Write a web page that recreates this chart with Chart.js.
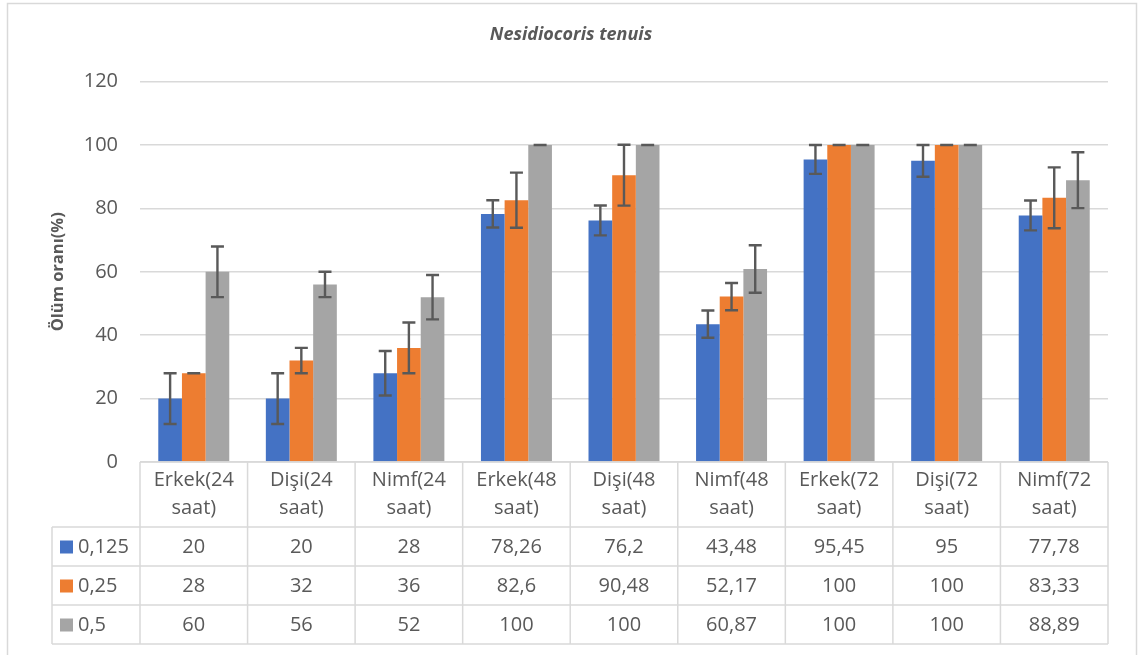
<!DOCTYPE html>
<html>
<head>
<meta charset="utf-8">
<script src="https://cdn.jsdelivr.net/npm/chart.js@4.4.0/dist/chart.umd.min.js"></script>
<style>
  html, body { margin: 0; padding: 0; background: #fff; }
  #wrap { position: relative; width: 1139px; height: 655px; }
</style>
</head>
<body>
<div id="wrap"><canvas id="chart" width="1139" height="655"></canvas></div>
<script>
// categories (two lines each, like in the data table header)
var categories = [
  ["Erkek(24", "saat)"], ["Dişi(24", "saat)"], ["Nimf(24", "saat)"],
  ["Erkek(48", "saat)"], ["Dişi(48", "saat)"], ["Nimf(48", "saat)"],
  ["Erkek(72", "saat)"], ["Dişi(72", "saat)"], ["Nimf(72", "saat)"]
];
var seriesNames = ["0,125", "0,25", "0,5"];
var dose125 = [20, 20, 28, 78.26, 76.2, 43.48, 95.45, 95, 77.78];
var dose25  = [28, 32, 36, 82.6, 90.48, 52.17, 100, 100, 83.33];
var dose5   = [60, 56, 52, 100, 100, 60.87, 100, 100, 88.89];
// error bar half-lengths
var err125 = [8, 8, 7, 4.3, 4.7, 4.3, 4.55, 5, 4.7];
var err25  = [0, 4, 8, 8.7, 9.6, 4.3, 0, 0, 9.6];
var err5   = [8, 4, 7, 0, 0, 7.5, 0, 0, 8.8];
var yTicks = [0, 20, 40, 60, 80, 100, 120];
var yTitle = "Ölüm oranı(%)";

var colors = ["#4472C4", "#ED7D31", "#A5A5A5"];
var textColor = "#595959";
var gridColor = "#D9D9D9";
var fontFam = "'Open Sans', sans-serif";

function fmt(v) { return String(v).replace(".", ","); }

/*--------------------------------
    Error bars
----------------------------------*/
var errorBars = {
  id: "errorBars",
  afterDatasetsDraw: function (chart) {
    var ctx = chart.ctx;
    var y = chart.scales.y;
    ctx.save();
    ctx.strokeStyle = "#595959";
    ctx.lineWidth = 2.4;
    chart.data.datasets.forEach(function (ds, di) {
      var meta = chart.getDatasetMeta(di);
      meta.data.forEach(function (bar, i) {
        var v = ds.data[i], e = ds.errors[i];
        var top = y.getPixelForValue(v + e);
        var bot = y.getPixelForValue(v - e);
        var cap = 6.5;
        ctx.beginPath();
        ctx.moveTo(bar.x, top); ctx.lineTo(bar.x, bot);
        ctx.moveTo(bar.x - cap, top); ctx.lineTo(bar.x + cap, top);
        ctx.moveTo(bar.x - cap, bot); ctx.lineTo(bar.x + cap, bot);
        ctx.stroke();
      });
    });
    ctx.restore();
  }
};

/*--------------------------------
    Data table under the plot + y title
----------------------------------*/
var dataTable = {
  id: "dataTable",
  afterDraw: function (chart) {
    var ctx = chart.ctx;
    var x = chart.scales.x;
    var area = chart.chartArea;
    var n = categories.length;
    var cw = (area.right - area.left) / n;
    var tableLeft = 52;
    var rows = [area.bottom, area.bottom + 65, area.bottom + 104, area.bottom + 143, area.bottom + 182];
    ctx.save();
    ctx.strokeStyle = gridColor;
    ctx.lineWidth = 1.5;
    ctx.beginPath();
    ctx.moveTo(area.left, rows[0]); ctx.lineTo(area.right, rows[0]);
    for (var r = 1; r < rows.length; r++) {
      ctx.moveTo(tableLeft, rows[r]); ctx.lineTo(area.right, rows[r]);
    }
    ctx.moveTo(tableLeft, rows[1]); ctx.lineTo(tableLeft, rows[4]);
    for (var c = 0; c <= n; c++) {
      var cx = area.left + c * cw;
      ctx.moveTo(cx, rows[0]); ctx.lineTo(cx, rows[4]);
    }
    ctx.stroke();

    ctx.fillStyle = textColor;
    ctx.font = "20px " + fontFam;
    ctx.textAlign = "center";
    ctx.textBaseline = "middle";
    categories.forEach(function (lab, i) {
      var px = x.getPixelForValue(i);
      ctx.fillText(lab[0], px, rows[0] + 18);
      ctx.fillText(lab[1], px, rows[0] + 46);
    });
    chart.data.datasets.forEach(function (ds, di) {
      var cy = (rows[di + 1] + rows[di + 2]) / 2;
      ctx.fillStyle = ds.backgroundColor;
      ctx.fillRect(60, cy - 6, 13, 13);
      ctx.fillStyle = textColor;
      ctx.textAlign = "left";
      ctx.fillText(seriesNames[di], 78, cy + 1);
      ctx.textAlign = "center";
      ds.data.forEach(function (v, i) {
        ctx.fillText(fmt(v), x.getPixelForValue(i), cy + 1);
      });
    });

    // y axis title
    ctx.save();
    ctx.translate(58, (area.top + area.bottom) / 2);
    ctx.rotate(-Math.PI / 2);
    ctx.font = "bold 16.5px " + fontFam;
    ctx.fillText(yTitle, 0, 0);
    ctx.restore();

    // outer chart border
    ctx.strokeStyle = "#D9D9D9";
    ctx.lineWidth = 1.5;
    ctx.strokeRect(7.5, 3.5, 1129, 700);
    ctx.restore();
  }
};

new Chart(document.getElementById("chart"), {
  type: "bar",
  data: {
    labels: categories,
    datasets: [
      { label: seriesNames[0], data: dose125, errors: err125, backgroundColor: colors[0] },
      { label: seriesNames[1], data: dose25, errors: err25, backgroundColor: colors[1] },
      { label: seriesNames[2], data: dose5, errors: err5, backgroundColor: colors[2] }
    ]
  },
  options: {
    responsive: false,
    animation: false,
    categoryPercentage: 0.66,
    barPercentage: 1.0,
    layout: { padding: { left: 34, right: 31, top: 0, bottom: 193 } },
    plugins: {
      legend: { display: false },
      tooltip: { enabled: false },
      title: {
        display: true,
        text: "Nesidiocoris tenuis",
        color: textColor,
        font: { family: fontFam, size: 18, weight: "bold", style: "italic" },
        padding: { top: 24, bottom: 36 }
      }
    },
    scales: {
      x: {
        display: false,
        grid: { display: false }
      },
      y: {
        min: 0,
        max: 120,
        afterBuildTicks: function (axis) {
          axis.ticks = yTicks.map(function (v) { return { value: v }; });
        },
        afterFit: function (axis) { axis.width = 106; },
        border: { display: false },
        grid: { color: gridColor, lineWidth: 1.5, drawTicks: false },
        ticks: {
          color: textColor,
          padding: 22,
          font: { family: fontFam, size: 20 }
        }
      }
    }
  },
  plugins: [errorBars, dataTable]
});
</script>
</body>
</html>
